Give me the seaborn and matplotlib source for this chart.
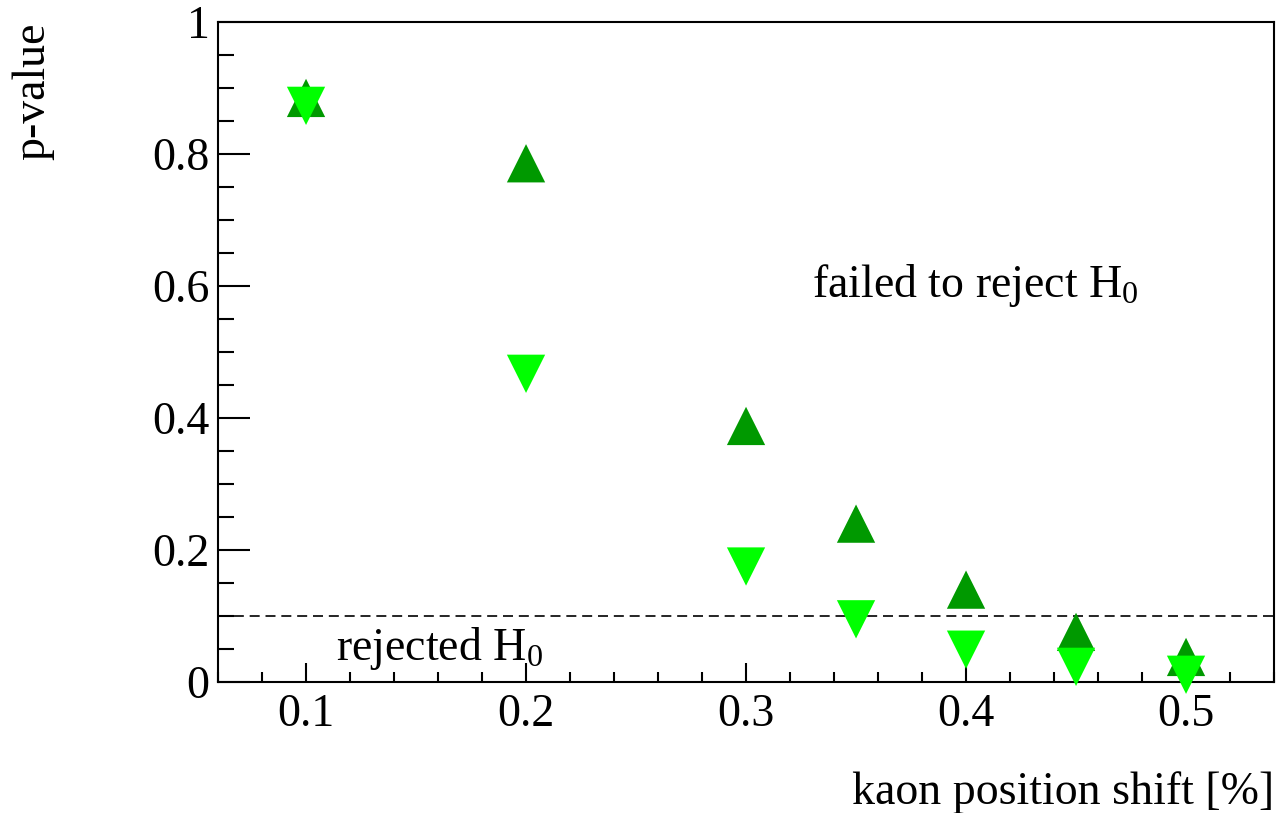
import pandas as pd
import seaborn as sns
import matplotlib.pyplot as plt
from matplotlib.ticker import MultipleLocator, FormatStrFormatter

# kaon position shift [%] and p-values
shift = [0.1, 0.2, 0.3, 0.35, 0.4, 0.45, 0.5]
pval_up = [0.885, 0.786, 0.388, 0.240, 0.140, 0.076, 0.038]
pval_down = [0.873, 0.467, 0.175, 0.095, 0.049, 0.023, 0.011]
threshold = 0.1

df = pd.DataFrame({
    "shift": shift * 2,
    "pvalue": pval_up + pval_down,
    "test": ["up"] * len(shift) + ["down"] * len(shift),
})

sns.set_style("white")
plt.rcParams["font.family"] = ["Liberation Serif", "DejaVu Serif"]
plt.rcParams["mathtext.fontset"] = "custom"
plt.rcParams["mathtext.rm"] = "Liberation Serif"
plt.rcParams["mathtext.it"] = "Liberation Serif:italic"
plt.rcParams["text.color"] = "black"
plt.rcParams["axes.labelcolor"] = "black"

fig = plt.figure(figsize=(12.78, 8.13), dpi=100)
ax = fig.add_axes([0.1706, 0.1611, 0.8263, 0.8118])

sns.scatterplot(data=df, x="shift", y="pvalue", hue="test", style="test",
                palette={"up": "#009900", "down": "#00ff00"},
                markers={"up": "^", "down": "v"},
                s=760, linewidth=0, legend=False, ax=ax, zorder=3,
                clip_on=False)

ax.axhline(threshold, color="black", lw=1.2, ls=(0, (6, 3.5)), zorder=2)

ax.set_xlim(0.06, 0.54)
ax.set_ylim(0, 1)
ax.xaxis.set_major_locator(MultipleLocator(0.1))
ax.xaxis.set_minor_locator(MultipleLocator(0.02))
ax.yaxis.set_major_locator(MultipleLocator(0.2))
ax.yaxis.set_minor_locator(MultipleLocator(0.05))
ax.xaxis.set_major_formatter(FormatStrFormatter("%g"))
ax.yaxis.set_major_formatter(FormatStrFormatter("%g"))

ax.tick_params(axis="both", which="both", direction="in", width=1.5,
               labelsize=33, colors="black", bottom=True, left=True,
               top=False, right=False)
ax.tick_params(axis="x", which="major", length=14, pad=8)
ax.tick_params(axis="x", which="minor", length=7)
ax.tick_params(axis="y", which="major", length=23, pad=6)
ax.tick_params(axis="y", which="minor", length=11.5)
for sp in ax.spines.values():
    sp.set_linewidth(1.5)
    sp.set_color("black")

ax.set_xlabel("kaon position shift [%]", fontsize=33, ha="right", x=1.0)
ax.xaxis.set_label_coords(1.0, -0.135)
ax.set_ylabel("p-value", fontsize=33, ha="right", y=1.0)
ax.yaxis.set_label_coords(-0.155, 1.0)

ax.text(0.330, 0.583, "failed to reject H$_0$", fontsize=33)
ax.text(0.1138, 0.033, "rejected H$_0$", fontsize=33)

fig.savefig("out.png", dpi=100)
